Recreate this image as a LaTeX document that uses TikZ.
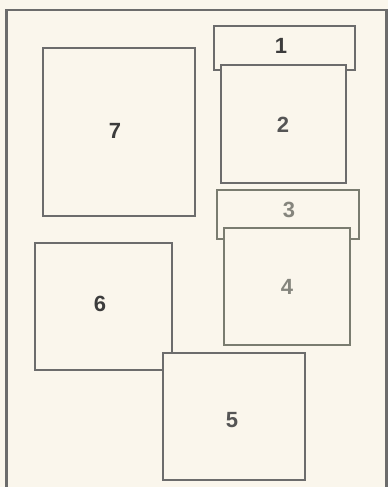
\documentclass[tikz,border=0pt]{standalone}
\usepackage{fontspec}
\setmainfont{Liberation Sans}
\definecolor{paper}{HTML}{FAF6EC}
\definecolor{edge}{HTML}{6C6C6C}
\definecolor{edgeg}{HTML}{7A7C70}
\definecolor{inkd}{HTML}{3C3C3C}
\definecolor{inkm}{HTML}{555555}
\definecolor{inkl}{HTML}{85857D}
\tikzset{
  panel/.style={draw=edge, line width=1.8pt, fill=paper},
  panelg/.style={draw=edgeg, line width=1.8pt, fill=paper},
  lbl/.style={font=\fontsize{22}{22}\selectfont\bfseries, inner sep=0pt},
}
\begin{document}
\begin{tikzpicture}[x=1pt,y=-1pt]
\useasboundingbox (0,0) rectangle (388,487);
\fill[paper] (0,0) rectangle (388,487);
% outer frame (cut at the bottom)
\draw[edge, line width=2.2pt] (6.5,490) -- (6.5,10) -- (386.5,10) -- (386.5,490);
% box 7
\draw[panel] (43,48) rectangle (195,216);
\node[lbl, text=inkd] (n7) at (115,131) {7};
% box 1 and 2
\draw[panel] (214,26) rectangle (355,70);
\node[lbl, text=inkd] (n1) at (281,46) {1};
\draw[panel] (221,65) rectangle (346,183);
\node[lbl, text=inkm] (n2) at (283,125) {2};
% box 3 and 4
\draw[panelg] (217,190) rectangle (359,239);
\node[lbl, text=inkl] (n3) at (289,210) {3};
\draw[panelg] (224,228) rectangle (350,345);
\node[lbl, text=inkl] (n4) at (287,287) {4};
% box 6 and 5
\draw[panel] (35,243) rectangle (172,370);
\node[lbl, text=inkd] (n6) at (100,304) {6};
\draw[panel] (163,353) rectangle (305,480);
\node[lbl, text=inkm] (n5) at (232,420) {5};
\end{tikzpicture}
\end{document}
